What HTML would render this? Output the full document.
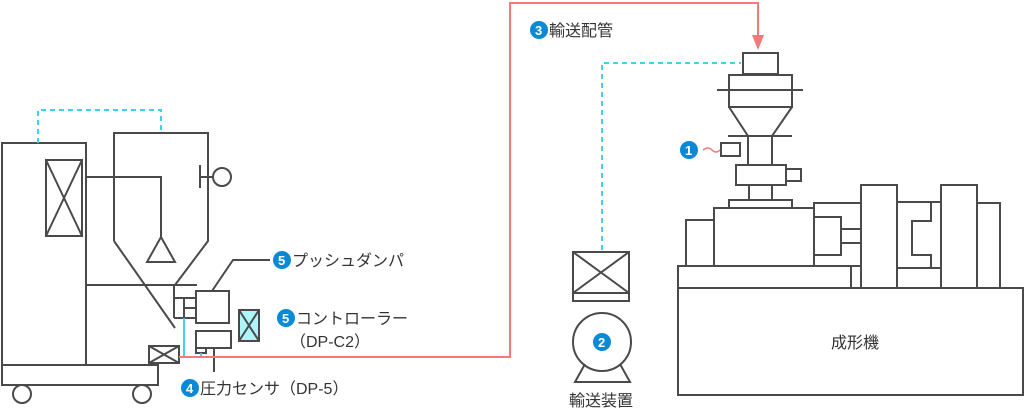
<!DOCTYPE html><html><head><meta charset="utf-8"><style>body{margin:0;background:#fff}svg{display:block}text{font-family:"Liberation Sans","Noto Sans CJK JP",sans-serif;fill:#333;font-size:16px}.b{fill:#0a8ad6}.bt{fill:#fff;font-size:13px;font-weight:bold}</style></head><body>
<svg width="1024" height="412" viewBox="0 0 1024 412" xmlns="http://www.w3.org/2000/svg">
<g fill="none" stroke="#4a4a4a" stroke-width="2">
<rect x="2" y="143" width="84" height="222"/><rect x="2" y="365" width="156" height="20"/>
<circle cx="22" cy="394" r="9"/><circle cx="142" cy="394" r="9"/>
<rect x="46" y="160" width="36" height="76"/><path d="M46 160L82 236M82 160L46 236"/>
<path d="M114 241V133H208V241L175 285M114 241L175 328"/>
<path d="M86 177H161V237M147 262H175L161 237Z"/>
<path d="M200 165V188M200 177H214"/><circle cx="222" cy="177" r="9"/>
<path d="M86 285H197"/>
<path d="M174 285V318M174 298H197M174 318H197M184 298V318M184 308H197"/>
<rect x="196" y="291" width="33" height="32"/><path d="M212 291L233 260H270"/>
<rect x="239" y="310" width="20" height="31" fill="#aef4fb"/><path d="M239 310L259 341M259 310L239 341"/>
<rect x="196" y="331" width="35" height="17"/><rect x="196" y="348" width="10" height="5"/><path d="M214 348V372"/>
<rect x="149" y="346" width="30" height="17"/><path d="M149 346L179 363M179 346L149 363"/>
<rect x="573" y="252" width="56" height="41"/><path d="M573 252L629 293M629 252L573 293"/><rect x="573" y="293" width="56" height="8"/>
<circle cx="602" cy="342" r="29"/><path d="M585 364L575 382H630L620 364"/>
<rect x="743" y="53" width="35" height="21"/><rect x="729" y="75" width="63" height="32"/><path d="M717 90H803M729 107L748 136M792 107L772 136M728 136H792"/>
<path d="M748 136V165M772 136V165"/><rect x="736" y="165" width="50" height="20"/><rect x="786" y="169" width="15" height="12"/>
<path d="M749 185V200M772 185V200"/><rect x="729" y="200" width="63" height="8"/>
<rect x="714" y="208" width="100" height="58"/><rect x="686" y="220" width="28" height="46"/><rect x="814" y="217" width="27" height="38"/><rect x="841" y="229" width="20" height="14"/>
<rect x="678" y="266" width="173" height="22"/><rect x="678" y="288" width="345" height="107"/>
<rect x="814" y="203" width="47" height="63"/>
<rect x="861" y="185" width="36" height="103"/><rect x="897" y="202" width="44" height="66"/><path d="M931 202V221H912V255H931V268"/><rect x="897" y="268" width="44" height="20"/>
<rect x="941" y="185" width="36" height="103"/><rect x="977" y="203" width="23" height="85"/>
<rect x="721" y="143" width="19" height="13"/>
</g>
<g fill="none" stroke="#3dd3f0" stroke-width="2" stroke-dasharray="5,4"><path d="M38 143V110H161V133"/><path d="M602 250V63H741"/></g>
<g fill="none" stroke="#3dd3f0" stroke-width="2"><path d="M184 318V357M201 353V357"/></g>
<path d="M179 357H510V3H758V42" fill="none" stroke="#f67878" stroke-width="2"/><path d="M752 35H764L758 50Z" fill="#f67878"/>
<path d="M703 150Q708 146 712 150T720 150" fill="none" stroke="#f67878" stroke-width="1.5"/>
<circle class="b" cx="689" cy="150" r="9"/><text class="bt" x="685" y="155">1</text>
<circle class="b" cx="602" cy="342" r="9"/><text class="bt" x="598" y="347">2</text>
<circle class="b" cx="539" cy="30" r="9"/><text class="bt" x="535" y="35">3</text>
<circle class="b" cx="190" cy="388" r="9"/><text class="bt" x="186" y="393">4</text>
<circle class="b" cx="282" cy="260" r="9"/><text class="bt" x="278" y="265">5</text>
<circle class="b" cx="286" cy="318" r="9"/><text class="bt" x="282" y="323">5</text>
<text x="549" y="36">輸送配管</text>
<text x="292" y="266">プッシュダンパ</text>
<text x="296" y="324">コントローラー</text>
<text x="290" y="347">（DP-C2）</text>
<text x="200" y="394">圧力センサ（DP-5）</text>
<text x="601" y="406" text-anchor="middle">輸送装置</text>
<text x="855" y="348" text-anchor="middle">成形機</text>
</svg></body></html>
